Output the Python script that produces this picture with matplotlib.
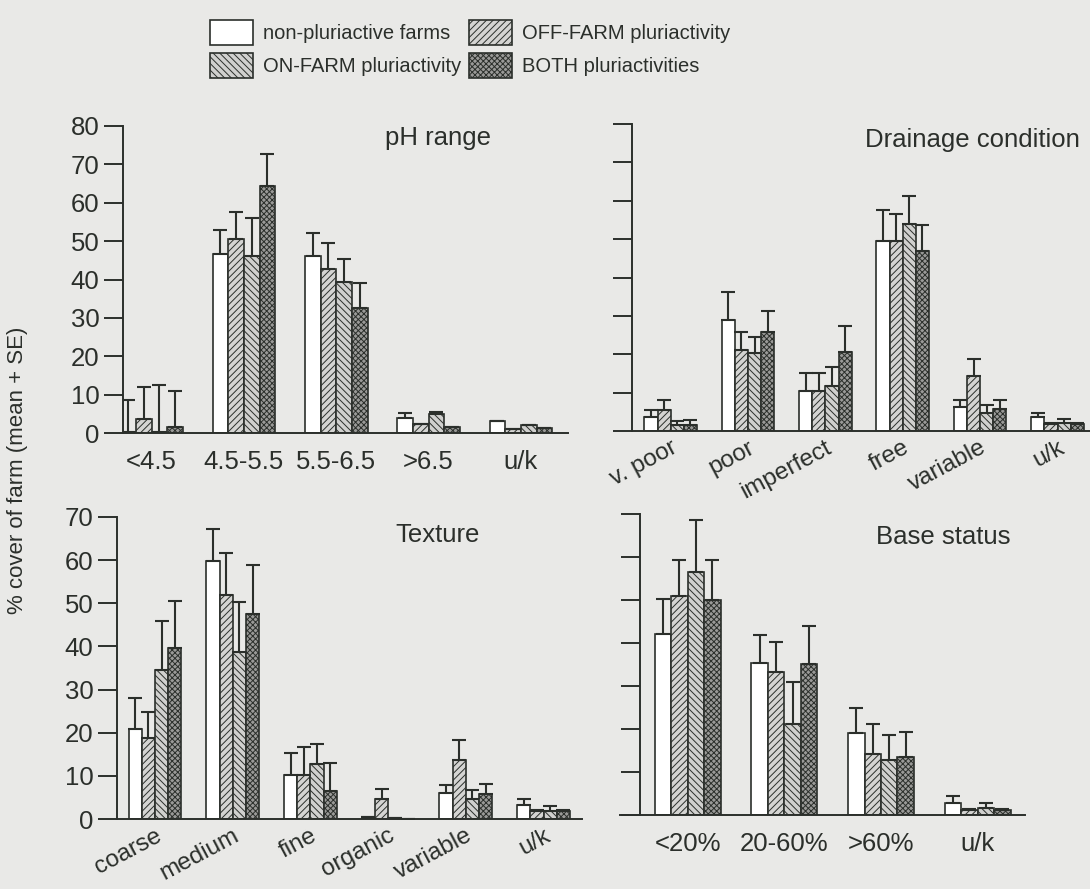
import matplotlib.pyplot as plt
import matplotlib.patches as mpatches
import numpy as np

plt.rcParams['font.family'] = ['Liberation Sans', 'DejaVu Sans']
plt.rcParams['hatch.linewidth'] = 0.7

series = ['non-pluriactive farms', 'OFF-FARM pluriactivity', 'ON-FARM pluriactivity', 'BOTH pluriactivities']

# pH range
ph_cats = ['<4.5', '4.5-5.5', '5.5-6.5', '>6.5', 'u/k']
ph_mean = [[0.3, 46.6, 46.1, 4.0, 3.1],
           [3.7, 50.6, 42.8, 2.4, 1.1],
           [0.2, 46.1, 39.4, 4.9, 2.1],
           [1.6, 64.3, 32.7, 1.6, 1.3]]
ph_se = [[8.4, 6.2, 5.9, 1.2, 0],
         [8.3, 7.0, 6.8, 0, 0],
         [12.2, 9.9, 5.9, 0.7, 0],
         [9.3, 8.5, 6.5, 0, 0]]

# Drainage condition
dr_cats = ['v. poor', 'poor', 'imperfect', 'free', 'variable', 'u/k']
dr_mean = [[3.7, 28.8, 10.3, 49.4, 6.3, 3.6],
           [5.5, 21.1, 10.3, 49.6, 14.2, 1.7],
           [1.6, 20.3, 11.7, 54.0, 4.6, 2.0],
           [1.6, 25.7, 20.5, 47.0, 5.7, 1.7]]
dr_se = [[1.8, 7.3, 4.9, 8.1, 1.8, 1.0],
         [2.6, 4.8, 4.9, 6.9, 4.6, 0.3],
         [1.0, 4.3, 5.1, 7.3, 2.2, 1.0],
         [1.3, 5.6, 6.9, 6.7, 2.4, 0.3]]

# Texture
tx_cats = ['coarse', 'medium', 'fine', 'organic', 'variable', 'u/k']
tx_mean = [[20.8, 59.8, 10.1, 0.5, 6.0, 3.3],
           [18.7, 51.9, 10.3, 4.6, 13.6, 1.8],
           [34.5, 38.6, 12.7, 0.2, 4.7, 1.9],
           [39.6, 47.5, 6.4, 0.1, 5.7, 1.8]]
tx_se = [[7.3, 7.5, 5.3, 0, 2.0, 1.4],
         [6.2, 9.7, 6.3, 2.4, 4.6, 0.3],
         [11.4, 11.8, 4.6, 0, 2.1, 1.2],
         [11.0, 11.4, 6.7, 0, 2.5, 0.3]]

# Base status
bs_cats = ['<20%', '20-60%', '>60%', 'u/k']
bs_mean = [[42.2, 35.4, 19.1, 2.9],
           [50.9, 33.3, 14.3, 1.2],
           [56.5, 21.1, 12.7, 1.6],
           [49.9, 35.2, 13.5, 1.2]]
bs_se = [[8.0, 6.4, 5.8, 1.6],
         [8.3, 6.9, 6.9, 0.3],
         [12.0, 9.8, 5.9, 1.3],
         [9.5, 8.8, 5.9, 0.3]]

bg = '#e9e9e7'
ink = '#2b2f2b'
fills = ['white', '#d4d4d2', '#d0d0ce', '#9a9a98']
hatches = [None, '/////', '\\\\\\\\\\', 'xxxxxx']
w = 0.17
fs = 18.5

fig = plt.figure(figsize=(10.9, 8.89), dpi=100, facecolor=bg)


def panel(rect, cats, means, ses, title, title_xy, ymax, spine_x, xlim, ylabels, rot):
    ax = fig.add_axes(rect)
    ax.set_facecolor('none')
    x = np.arange(len(cats))
    for i in range(4):
        ax.bar(x + (i - 1.5) * w, means[i], w, color=fills[i], hatch=hatches[i],
               edgecolor=ink, linewidth=1.2, zorder=2)
        m = np.array(means[i])
        ax.errorbar(x + (i - 1.5) * w, m, yerr=[np.zeros(len(m)), ses[i]], fmt='none',
                    ecolor=ink, elinewidth=1.5, capsize=5, capthick=1.5, zorder=3)
    ax.set_xlim(xlim)
    ax.set_ylim(0, ymax)
    ax.set_yticks(range(0, ymax + 1, 10))
    for s in ['top', 'right']:
        ax.spines[s].set_visible(False)
    ax.spines['left'].set_position(('data', spine_x))
    ax.spines['left'].set_color(ink)
    ax.spines['bottom'].set_color(ink)
    ax.spines['left'].set_linewidth(1.4)
    ax.spines['bottom'].set_linewidth(1.4)
    ax.tick_params(axis='y', direction='out', length=14, width=1.4, color=ink,
                   labelsize=fs, labelcolor=ink, pad=3)
    if not ylabels:
        ax.set_yticklabels([])
    ax.set_xticks(x)
    if rot:
        ax.tick_params(axis='x', length=0, pad=4)
        ax.set_xticklabels(cats, rotation=28, ha='right', rotation_mode='anchor',
                           fontsize=17.5, color=ink)
    else:
        ax.tick_params(axis='x', length=0, pad=12)
        ax.set_xticklabels(cats, fontsize=fs, color=ink)
    fig.text(title_xy[0] / 1090, 1 - title_xy[1] / 889, title, fontsize=fs, color=ink,
             ha='center', va='center')
    return ax


panel([0.1128, 0.5129, 0.4083, 0.3454], ph_cats, ph_mean, ph_se, 'pH range', (438, 138),
      80, -0.31, (-0.31, 4.51), True, False)
panel([0.5798, 0.5152, 0.4202, 0.3453], dr_cats, dr_mean, dr_se, 'Drainage condition', (972, 140),
      80, -0.5, (-0.5, 5.42), False, True)
panel([0.1073, 0.0787, 0.4263, 0.3398], tx_cats, tx_mean, tx_se, 'Texture', (438, 535),
      70, -0.49, (-0.49, 5.49), True, True)
panel([0.5688, 0.0832, 0.3716, 0.3386], bs_cats, bs_mean, bs_se, 'Base status', (943, 537),
      70, -0.49, (-0.70, 3.49), False, False)

fig.text(18 / 1090, 1 - 470 / 889, '% cover of farm (mean + SE)', rotation=90, fontsize=16,
         color=ink, ha='center', va='center')

handles = [mpatches.Patch(facecolor=fills[i], hatch=hatches[i], edgecolor=ink, linewidth=1.2,
                          label=series[i]) for i in range(4)]
order = [0, 2, 1, 3]
fig.legend([handles[i] for i in order], [series[i] for i in order], ncol=2, frameon=False,
           loc='center', bbox_to_anchor=(470 / 1090, 1 - 49 / 889), fontsize=14.5,
           handlelength=2.14, handleheight=1.5, handletextpad=0.5, columnspacing=0.4,
           labelspacing=0.4, labelcolor=ink)

fig.savefig('out.png', dpi=100, facecolor=bg)
